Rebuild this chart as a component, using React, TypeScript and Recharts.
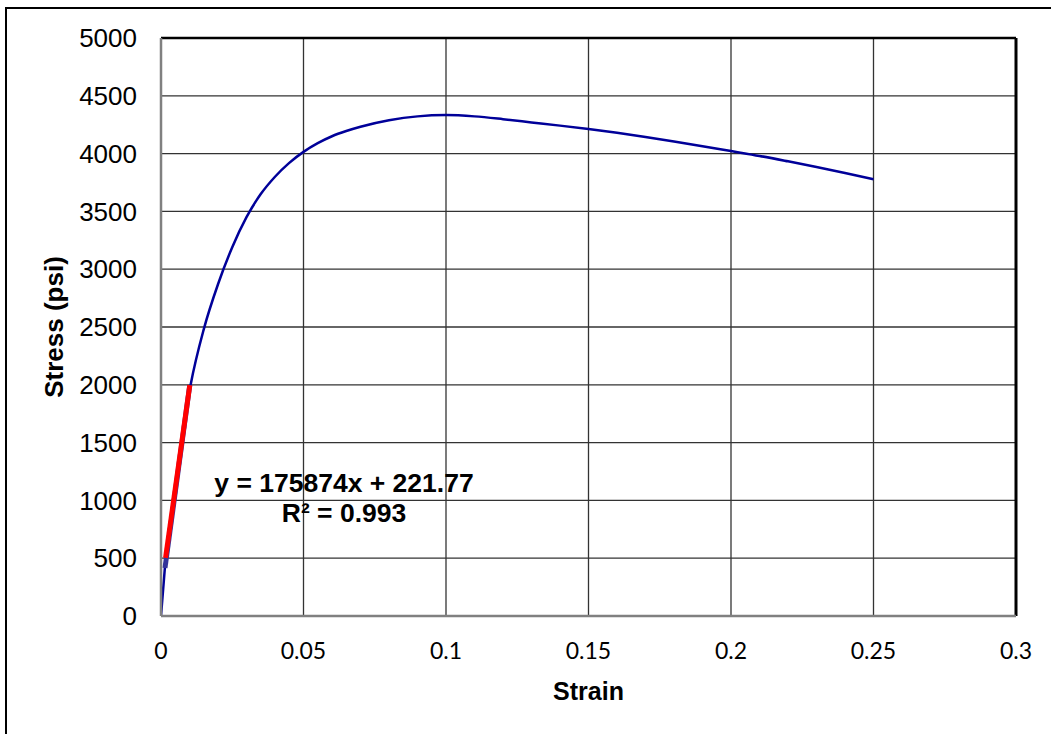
import { LineChart, Line, XAxis, YAxis, CartesianGrid, ReferenceLine, Label } from 'recharts'

// stress-strain curve
const strain = [0, 0.0014, 0.005, 0.0104, 0.015, 0.02, 0.025, 0.03, 0.035, 0.04, 0.045, 0.05, 0.055, 0.06, 0.065, 0.07, 0.08, 0.09, 0.1, 0.11, 0.12, 0.13, 0.14, 0.15, 0.16, 0.17, 0.18, 0.19, 0.2, 0.21, 0.22, 0.23, 0.24, 0.25]
const stress = [0, 430, 1120, 2000, 2480, 2870, 3190, 3450, 3650, 3800, 3920, 4015, 4090, 4150, 4195, 4232, 4288, 4322, 4333, 4322, 4298, 4270, 4242, 4212, 4180, 4144, 4105, 4064, 4022, 3980, 3933, 3884, 3832, 3778]

// points used for the linear fit, and the fitted trendline
const fitStrain = [0.0014, 0.0101]
const fitStress = [415, 1998]
const trendStrain = [0.0016, 0.0101]
const trendStress = [503, 1998]

const xTicks = [0, 0.05, 0.1, 0.15, 0.2, 0.25, 0.3]
const yTicks = [0, 500, 1000, 1500, 2000, 2500, 3000, 3500, 4000, 4500, 5000]

const NAVY = '#000099'
const RED = '#ff0000'
const GRID = '#333333'
const AXIS = '#808080'
const ARIAL = '"Liberation Sans", Arial, sans-serif'

const curve = strain.map((x, i) => ({ x, y: stress[i] }))
const fitPts = fitStrain.map((x, i) => ({ x, y: fitStress[i] }))
const trend = trendStrain.map((x, i) => ({ x, y: trendStress[i] }))

const W = 1051
const H = 734

export default function App() {
  return (
    <div style={{ position: 'absolute', left: 0, top: 0, width: W, height: H, overflow: 'hidden', background: '#fff' }}>
      <div
        style={{
          position: 'absolute',
          left: 5,
          top: 7,
          width: 1200,
          height: 900,
          border: '2px solid #000',
        }}
      />
      <LineChart
        width={W}
        height={H}
        margin={{ top: 38, right: 35, bottom: 58, left: 61 }}
        style={{ position: 'absolute', left: 0, top: 0 }}
      >
        <CartesianGrid stroke={GRID} strokeWidth={1.3} />
        <XAxis
          type="number"
          dataKey="x"
          domain={[0, 0.3]}
          ticks={xTicks}
          height={60}
          allowDataOverflow
          tickSize={0}
          tickMargin={27}
          tickLine={false}
          axisLine={{ stroke: AXIS, strokeWidth: 2.5 }}
          tick={{ fill: '#000', fontSize: 23, fontFamily: 'Lato, sans-serif' }}
        >
          <Label
            value="Strain"
            content={({ viewBox }: any) => (
              <text
                x={viewBox.x + viewBox.width / 2}
                y={700}
                textAnchor="middle"
                style={{ fontFamily: ARIAL, fontWeight: 700, fontSize: 25, fill: '#000' }}
              >
                Strain
              </text>
            )}
          />
        </XAxis>
        <YAxis
          type="number"
          dataKey="y"
          domain={[0, 5000]}
          ticks={yTicks}
          width={100}
          tickSize={0}
          tickMargin={24}
          tickLine={false}
          axisLine={{ stroke: AXIS, strokeWidth: 2.5 }}
          tick={{ fill: '#000', fontSize: 26, fontFamily: ARIAL }}
        >
          <Label
            value="Stress (psi)"
            content={({ viewBox }: any) => {
              const cx = 63
              const cy = viewBox.y + viewBox.height / 2
              return (
                <text
                  x={cx}
                  y={cy}
                  textAnchor="middle"
                  transform={`rotate(-90 ${cx} ${cy})`}
                  style={{ fontFamily: ARIAL, fontWeight: 700, fontSize: 26, fill: '#000' }}
                >
                  Stress (psi)
                </text>
              )
            }}
          />
        </YAxis>
        <ReferenceLine y={5000} stroke="#000" strokeWidth={2.5} />
        <ReferenceLine x={0.3} stroke="#000" strokeWidth={3} />
        <Line
          data={curve}
          dataKey="y"
          type="monotone"
          stroke={NAVY}
          strokeWidth={2.5}
          dot={false}
          isAnimationActive={false}
        />
        <Line
          data={fitPts}
          dataKey="y"
          type="linear"
          stroke="#333399"
          strokeWidth={5}
          dot={false}
          isAnimationActive={false}
        />
        <Line
          data={trend}
          dataKey="y"
          type="linear"
          stroke={RED}
          strokeWidth={5}
          dot={false}
          isAnimationActive={false}
        />
      </LineChart>
      <div
        style={{
          position: 'absolute',
          left: 194,
          top: 468,
          width: 300,
          textAlign: 'center',
          fontFamily: ARIAL,
          fontWeight: 700,
          fontSize: 26.5,
          lineHeight: '30px',
          color: '#000',
        }}
      >
        <div>y = 175874x + 221.77</div>
        <div>R² = 0.993</div>
      </div>
    </div>
  )
}
